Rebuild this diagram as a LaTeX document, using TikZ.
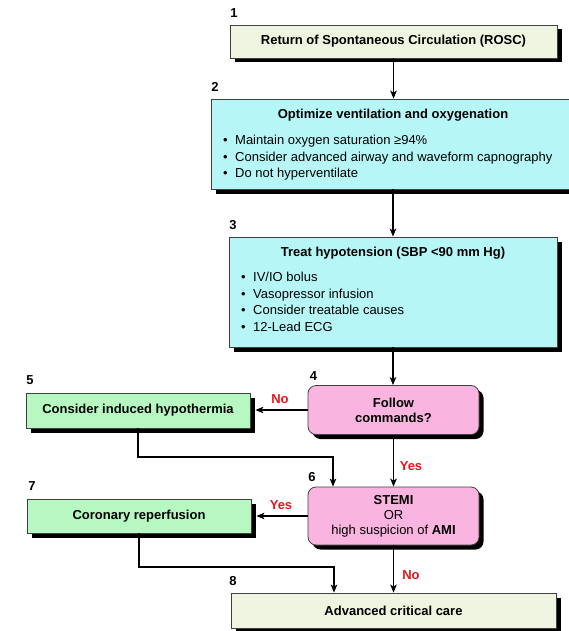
\documentclass[tikz,border=0pt]{standalone}
\usepackage{fontspec}
\setmainfont{Liberation Sans}
\usetikzlibrary{arrows.meta,shadows,calc}
\definecolor{creambox}{RGB}{238,244,224}
\definecolor{cyanbox}{RGB}{182,246,246}
\definecolor{greenbox}{RGB}{182,247,194}
\definecolor{pinkbox}{RGB}{249,180,224}
\definecolor{labred}{RGB}{232,20,26}
\begin{document}
\begin{tikzpicture}[x=1pt,y=-1pt,
  box/.style={draw=black!75, line width=0.8pt, inner sep=0pt,
    drop shadow={shadow xshift=4.5pt, shadow yshift=-4.5pt, fill=black, opacity=1},
    font=\fontsize{13}{15}\selectfont\bfseries, align=center},
  cream/.style={box, fill=creambox},
  cyanb/.style={box, fill=cyanbox},
  greenb/.style={box, fill=greenbox},
  pinkb/.style={box, fill=pinkbox, rounded corners=8pt, font=\fontsize{13}{15}\selectfont},
  txt/.style={inner sep=0pt, text height=9.5pt, text depth=2.5pt, font=\fontsize{13}{15}\selectfont},
  bul/.style={txt, anchor=west},
  num/.style={inner sep=0pt, font=\fontsize{13}{15}\selectfont\bfseries},
  lab/.style={inner sep=0pt, text=labred, font=\fontsize{13}{15}\selectfont\bfseries},
  arr/.style={line width=1.2pt, -{Stealth[length=8pt,width=6.5pt,inset=2pt]}},
  ln/.style={line width=1.2pt}
]
\useasboundingbox (0,0) rectangle (568,631);

% boxes
\node[cream, minimum width=327pt, minimum height=33pt] (b1) at (393.5,41.5) {Return of Spontaneous Circulation (ROSC)};
\node[cyanb, minimum width=364pt, minimum height=90pt] (b2) at (393,144) {};
\node[cyanb, minimum width=328pt, minimum height=110pt] (b3) at (393,292) {};
\node[pinkb, minimum width=171pt, minimum height=49pt] (b4) at (393.5,410) {\textbf{Follow}\\\textbf{commands?}};
\node[greenb, minimum width=224pt, minimum height=35pt] (b5) at (138,410.5) {Consider induced hypothermia};
\node[pinkb, minimum width=171pt, minimum height=58pt] (b6) at (393.5,516) {\textbf{STEMI}\\OR\\high suspicion of \textbf{AMI}};
\node[greenb, minimum width=224pt, minimum height=34pt] (b7) at (139,516) {Coronary reperfusion};
\node[cream, minimum width=325pt, minimum height=35pt] (b8) at (393.5,610.5) {Advanced critical care};

% box 2 text
\node[txt, font=\fontsize{13}{15}\selectfont\bfseries] (t2) at (393,115) {Optimize ventilation and oxygenation};
\node[bul] (t2a) at (223,141) {\makebox[12pt][l]{•}Maintain oxygen saturation ≥94\%};
\node[bul] (t2b) at (223,157.5) {\makebox[12pt][l]{•}Consider advanced airway and waveform capnography};
\node[bul] (t2c) at (223,174) {\makebox[12pt][l]{•}Do not hyperventilate};

% box 3 text
\node[txt, font=\fontsize{13}{15}\selectfont\bfseries] (t3) at (393,253) {Treat hypotension (SBP <90 mm Hg)};
\node[bul] (t3a) at (241,278) {\makebox[12pt][l]{•}IV/IO bolus};
\node[bul] (t3b) at (241,294.5) {\makebox[12pt][l]{•}Vasopressor infusion};
\node[bul] (t3c) at (241,311) {\makebox[12pt][l]{•}Consider treatable causes};
\node[bul] (t3d) at (241,327.5) {\makebox[12pt][l]{•}12-Lead ECG};

% step numbers
\node[num] (n1) at (234,13) {1};
\node[num] (n2) at (215,87) {2};
\node[num] (n3) at (233,225) {3};
\node[num] (n4) at (313.5,376) {4};
\node[num] (n5) at (30,380) {5};
\node[num] (n6) at (312,477) {6};
\node[num] (n7) at (32,486) {7};
\node[num] (n8) at (233,581) {8};

% connectors
\draw[arr] (b1.south) -- (b1.south |- b2.north);
\draw[arr] (b2.south -| b3.north) -- (b3.north);
\draw[arr] (b3.south) -- (b3.south |- b4.north);
\draw[arr] (b4.west) -- ($(b4.west -| b5.east)+(5,0)$);
\draw[arr] (b4.south) -- (b4.south |- b6.north);
\draw[arr] (b6.west) -- ($(b6.west -| b7.east)+(5,0)$);
\draw[arr] (b6.south) -- (b6.south |- b8.north);

\coordinate (h1) at (0,457);
\coordinate (h2) at (0,567);
\draw[arr] (b5.south) -- (b5.south |- h1) -| ([xshift=-60.5pt]b6.north);
\draw[arr] (b7.south) -- (b7.south |- h2) -| ([xshift=-59.5pt]b8.north);

% labels
\node[lab] (l1) at (280,399) {No};
\node[lab] (l2) at (411,466) {Yes};
\node[lab] (l3) at (281,505) {Yes};
\node[lab] (l4) at (411,575) {No};
\end{tikzpicture}
\end{document}
